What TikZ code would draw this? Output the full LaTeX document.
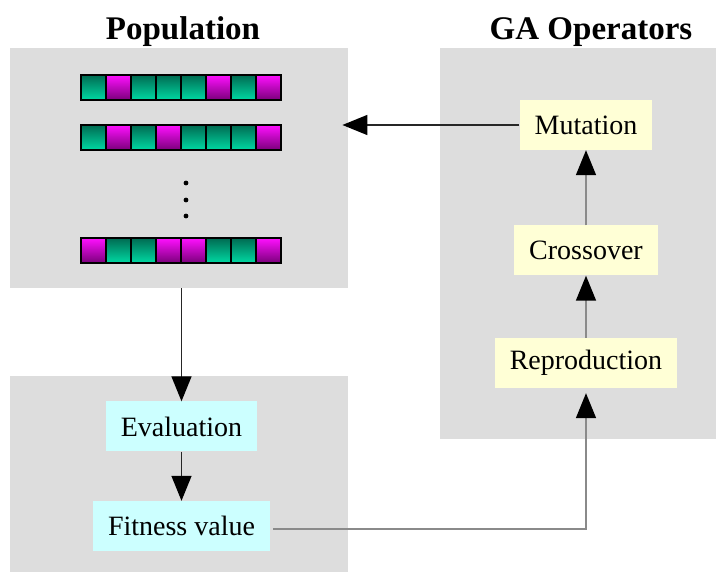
\documentclass[tikz,border=0pt]{standalone}
\usepackage{fontspec}
\setmainfont{Liberation Serif}
\usetikzlibrary{arrows.meta,shadings}

\definecolor{panelgray}{HTML}{DDDDDD}
\definecolor{opyellow}{HTML}{FFFFD6}
\definecolor{evalcyan}{HTML}{CCFFFF}
\definecolor{genegreenA}{HTML}{006B52}
\definecolor{genegreenB}{HTML}{00D9A3}
\definecolor{genemagA}{HTML}{FF10FF}
\definecolor{genemagB}{HTML}{7A007A}
\definecolor{linegray}{HTML}{8A8A8A}

\tikzset{
  panel/.style={fill=panelgray, draw=none, anchor=north west, inner sep=0pt},
  title/.style={font=\fontsize{33}{36}\selectfont\bfseries, anchor=base},
  opbox/.style={fill=opyellow, draw=none, inner xsep=15pt, inner ysep=0pt,
    minimum height=50pt, font=\fontsize{28}{30}\selectfont},
  evalbox/.style={fill=evalcyan, draw=none, inner xsep=15pt, inner ysep=0pt,
    minimum height=50pt, font=\fontsize{28}{30}\selectfont},
  gene0/.style={top color=genegreenA, bottom color=genegreenB, draw=black, line width=1.6pt},
  gene1/.style={top color=genemagA, bottom color=genemagB, draw=black, line width=1.6pt},
  tip/.style={-{Triangle[length=25pt,width=20pt,color=black]}},
  darrow/.style={draw=black!85, line width=1.4pt, tip},
  garrow/.style={draw=linegray, line width=1.6pt, tip},
}

\begin{document}
\begin{tikzpicture}[x=1pt,y=-1pt]
\useasboundingbox (0,0) rectangle (716,572);

% panels
\node[panel, minimum width=338pt, minimum height=240pt] (pop) at (10,48) {};
\node[panel, minimum width=276pt, minimum height=391pt] (ga) at (440,48) {};
\node[panel, minimum width=338pt, minimum height=196pt] (evalpanel) at (10,376) {};

% titles
\node[title] (poptitle) at (183,40) {Population};
\node[title] (gatitle) at (591,40) {GA Operators};

% chromosomes
\foreach \ytop/\genes in {75/{0,1,0,0,0,1,0,1},125/{0,1,0,1,0,0,0,1},238/{1,0,0,1,1,0,0,1}} {
  \foreach \g [count=\i from 0] in \genes {
    \path[gene\g] (81+25*\i,\ytop) rectangle ++(25,25);
  }
}

% ellipsis dots
\foreach \yd in {183,200,216} \fill (186,\yd) circle (2.4pt);

% operator nodes
\node[opbox] (mut) at (586,125) {Mutation};
\node[opbox] (cross) at (586,250.5) {Crossover};
\node[opbox] (rep) at (586,363) {Reproduction};

% evaluation nodes
\node[evalbox] (eval) at (181.5,426.5) {Evaluation};
\node[evalbox] (fit) at (181.5,526) {Fitness value};

% connectors
\draw[darrow, shorten >=-6pt] (mut.west) -- (mut.west -| pop.east);
\draw[darrow] (eval.north |- pop.south) -- (eval.north);
\draw[darrow] (eval.south) -- (fit.north);
\draw[garrow] (rep.north) -- (cross.south);
\draw[garrow] (cross.north) -- (mut.south);
\draw[garrow, shorten <=3pt, shorten >=5pt] ([yshift=-3pt]fit.east) -| (rep.south);
\end{tikzpicture}
\end{document}
